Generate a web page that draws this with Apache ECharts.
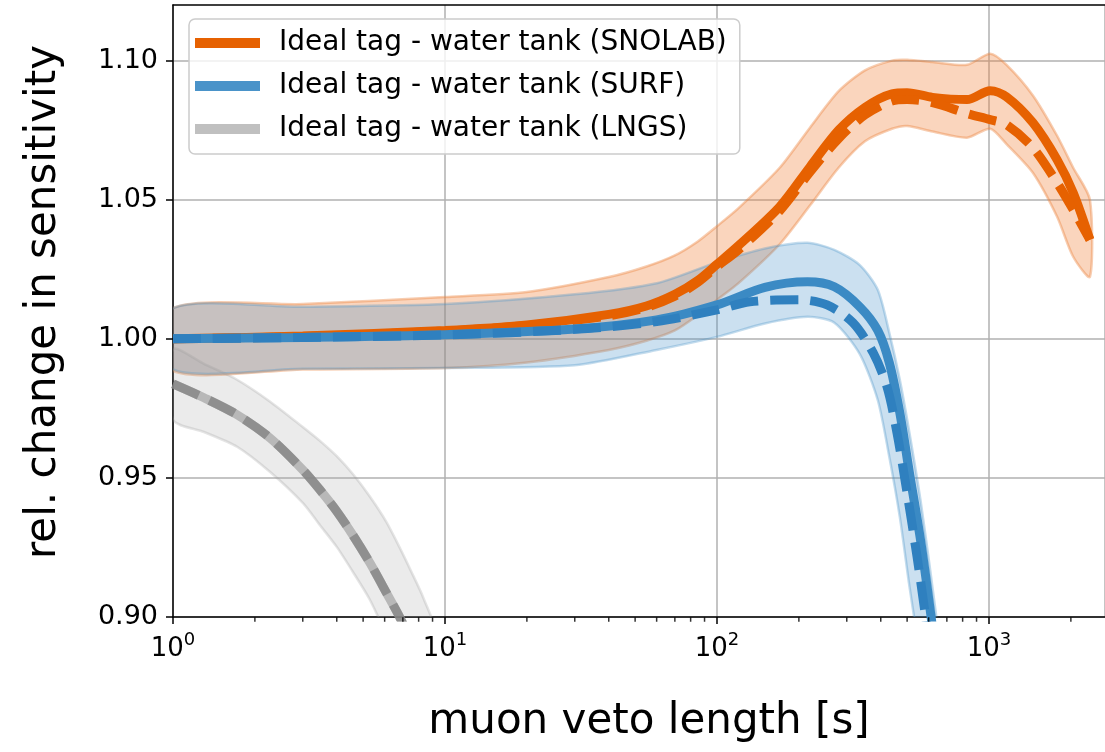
<!DOCTYPE html>
<html>
<head>
<meta charset="utf-8">
<script src="https://cdn.jsdelivr.net/npm/echarts@6/dist/echarts.min.js"></script>
<style>
html, body { margin: 0; padding: 0; background: #fff; }
#chart { width: 1105px; height: 752px; }
</style>
</head>
<body>
<div id="chart"></div>
<script>
// values
var legendNames = ["Ideal tag - water tank (SNOLAB)", "Ideal tag - water tank (SURF)", "Ideal tag - water tank (LNGS)"];
var yTicks = [0.90, 0.95, 1.00, 1.05, 1.10];
var minorTicks = [2, 3, 4, 5, 6, 7, 8, 9, 20, 30, 40, 50, 60, 70, 80, 90, 200, 300, 400, 500, 600, 700, 800, 900, 2000];

// SNOLAB
var snolabX      = [1, 3, 10, 20, 40, 55, 70, 85, 100, 120, 170, 220, 280, 350, 440, 500, 620, 830, 1010, 1160, 1450, 1780, 2040, 2350];
var snolabSolid  = [1.000, 1.001, 1.003, 1.005, 1.0088, 1.0118, 1.016, 1.021, 1.0268, 1.0335, 1.0475, 1.0619, 1.075, 1.0832, 1.0881, 1.0885, 1.0868, 1.086, 1.0892, 1.087, 1.0777, 1.0644, 1.0525, 1.0356];
var snolabDashed = [1.000, 1.0008, 1.0028, 1.0048, 1.0083, 1.0113, 1.0153, 1.0203, 1.026, 1.032, 1.046, 1.060, 1.072, 1.0805, 1.0855, 1.086, 1.0849, 1.081, 1.0788, 1.077, 1.0687, 1.0561, 1.0464, 1.0356];
var snolabHigh   = [1.011, 1.0125, 1.015, 1.0168, 1.0222, 1.026, 1.030, 1.035, 1.0405, 1.047, 1.0615, 1.076, 1.089, 1.0965, 1.100, 1.1003, 1.0995, 1.0985, 1.1025, 1.0985, 1.0875, 1.073, 1.0615, 1.050];
var snolabLow    = [0.9885, 0.989, 0.9895, 0.9915, 0.996, 0.9993, 1.003, 1.0085, 1.014, 1.020, 1.034, 1.048, 1.0615, 1.071, 1.0755, 1.0765, 1.0745, 1.0723, 1.0755, 1.070, 1.0597, 1.0439, 1.0295, 1.0223];

// SURF
var surfX      = [1, 3, 10, 30, 60, 100, 150, 215, 270, 335, 390, 430, 470, 510, 560, 610, 660, 720];
var surfSolid  = [1.000, 1.0005, 1.0015, 1.0035, 1.0068, 1.0122, 1.0185, 1.0205, 1.0187, 1.0115, 1.003, 0.9914, 0.9734, 0.9518, 0.9277, 0.9014, 0.875, 0.84];
var surfHigh   = [1.011, 1.0115, 1.0125, 1.016, 1.020, 1.0275, 1.0325, 1.0345, 1.032, 1.0265, 1.0176, 1.0022, 0.9853, 0.9662, 0.942, 0.9158, 0.89, 0.86];
var surfLow    = [0.989, 0.9892, 0.9895, 0.9905, 0.996, 1.0007, 1.0055, 1.0079, 1.0058, 0.9945, 0.978, 0.9576, 0.936, 0.911, 0.885, 0.86, 0.84, 0.81];
var surfDashX  = [1, 3, 10, 30, 60, 100, 132, 202, 254, 316, 375, 422, 459, 500, 544, 582, 630];
var surfDashed = [1.000, 1.0005, 1.0014, 1.0034, 1.0062, 1.0104, 1.0133, 1.014, 1.0122, 1.0058, 0.995, 0.9827, 0.9662, 0.9446, 0.9216, 0.9014, 0.875];

// LNGS (solid and dashed lie on top of each other)
var lngsX     = [1, 1.3, 1.72, 2.27, 3.0, 3.47, 4.0, 4.6, 5.3, 6.1, 6.85, 7.5, 8.3, 9.5];
var lngsLine  = [0.9838, 0.9788, 0.9727, 0.9644, 0.9529, 0.9457, 0.938, 0.9292, 0.9194, 0.9086, 0.8995, 0.891, 0.879, 0.86];
var lngsHigh  = [0.9962, 0.991, 0.9853, 0.9775, 0.9683, 0.9633, 0.9578, 0.9512, 0.9432, 0.934, 0.9245, 0.9165, 0.9072, 0.891];
var lngsLow   = [0.9709, 0.9665, 0.9612, 0.9522, 0.941, 0.933, 0.9252, 0.916, 0.9061, 0.893, 0.880, 0.870, 0.855, 0.835];

var FONT = "DejaVu Sans";

function pairs(xs, ys) {
    var out = [];
    for (var i = 0; i < xs.length; i++) {
        out.push([xs[i], ys[i]]);
    }
    return out;
}

// uncertainty band: one polygon (upper edge forward, lower edge back)
function band(xs, lo, hi, fill, edge) {
    var data = [];
    for (var i = 0; i < xs.length; i++) {
        data.push([xs[i], lo[i], hi[i]]);
    }
    return {
        type: "custom", silent: true, z: 1, clip: true,
        encode: { x: 0, y: [1, 2] },
        data: data,
        renderItem: function (params, api) {
            if (params.dataIndex !== 0) return;
            var pts = [];
            for (var i = 0; i < xs.length; i++) pts.push(api.coord([xs[i], hi[i]]));
            for (var j = xs.length - 1; j >= 0; j--) pts.push(api.coord([xs[j], lo[j]]));
            var cs = params.coordSys;
            return {
                type: "polygon",
                shape: { points: pts, smooth: 0.25 },
                style: { fill: fill, stroke: edge, lineWidth: 2.5 },
                clipPath: { type: "rect", shape: { x: cs.x, y: cs.y, width: cs.width, height: cs.height } }
            };
        }
    };
}

function curve(name, xs, ys, color, legendColor, dashed) {
    return {
        name: name, type: "line", smooth: 0.3, showSymbol: false, silent: true, z: 3,
        data: pairs(xs, ys),
        itemStyle: { color: legendColor },
        lineStyle: { color: color, width: 9, type: dashed ? [28, 12] : "solid", cap: "butt" }
    };
}

var series = [
    band(snolabX, snolabLow, snolabHigh, "rgba(238,125,50,0.32)", "rgba(236,130,60,0.4)"),
    band(surfX, surfLow, surfHigh, "rgba(70,145,200,0.28)", "rgba(70,145,200,0.32)"),
    band(lngsX, lngsLow, lngsHigh, "rgba(165,165,165,0.22)", "rgba(150,150,150,0.25)")
];

series.push(curve(legendNames[0], snolabX, snolabSolid, "#e66101", "#e66101", false));
series.push(curve("snolab_dashed", snolabX, snolabDashed, "#e66101", "#e66101", true));
series.push(curve(legendNames[1], surfX, surfSolid, "#3b8ac4", "#4a93c9", false));
series.push(curve("surf_dashed", surfDashX, surfDashed, "#2f80bf", "#2f80bf", true));
series.push(curve(legendNames[2], lngsX, lngsLine, "rgba(150,150,150,0.6)", "#c0c0c0", false));
series.push(curve("lngs_dashed", lngsX, lngsLine, "rgba(130,130,130,0.75)", "#999999", true));

// minor ticks of the log axis
series.push({
    type: "scatter", silent: true, clip: false, z: 10,
    symbol: "rect", symbolSize: [1.5, 4.5], symbolOffset: [0, 2.5],
    itemStyle: { color: "#000" },
    data: minorTicks.map(function (v) { return [v, yTicks[0]]; })
});

var chart = echarts.init(document.getElementById("chart"), null, { renderer: "canvas" });
chart.setOption({
    animation: false,
    backgroundColor: "#fff",
    grid: { left: 173, right: 0, top: 5, bottom: 135 },
    legend: {
        data: legendNames,
        orient: "vertical",
        left: 189, top: 19,
        icon: "rect", itemWidth: 65, itemHeight: 10, itemGap: 15,
        padding: [10, 13, 11, 6],
        backgroundColor: "rgba(255,255,255,0.8)",
        borderColor: "#cccccc", borderWidth: 1.5, borderRadius: 6,
        textStyle: { fontFamily: FONT, fontSize: 28, color: "#000", padding: [0, 0, 0, 14] }
    },
    xAxis: [{
        type: "log", logBase: 10, min: 1, max: 2670,
        name: "muon veto length [s]", nameLocation: "middle", nameGap: 84,
        nameTextStyle: { fontFamily: FONT, fontSize: 42, color: "#000", padding: [0, 0, 0, 20] },
        axisLine: { lineStyle: { color: "#000", width: 1.5 } },
        axisTick: { length: 7, lineStyle: { color: "#000", width: 1.5 } },
        splitLine: { show: true, lineStyle: { color: "#b0b0b0", width: 1.5 } },
        axisLabel: {
            showMaxLabel: false, margin: 14, color: "#000",
            formatter: function (v) {
                return "{b|10}{s|" + Math.round(Math.log10(v)) + "}";
            },
            rich: {
                b: { fontFamily: FONT, fontSize: 26, color: "#000", padding: [5, 0, 0, 0], verticalAlign: "bottom" },
                s: { fontFamily: FONT, fontSize: 18, color: "#000", verticalAlign: "top" }
            }
        }
    }, {
        type: "log", logBase: 10, min: 1, max: 2670, position: "top",
        axisLine: { lineStyle: { color: "#000", width: 1.5 } },
        axisTick: { show: false }, axisLabel: { show: false }, splitLine: { show: false }
    }],
    yAxis: {
        type: "value", min: 0.9, max: 1.12, interval: 0.05,
        name: "rel. change in sensitivity", nameLocation: "middle", nameGap: 108, nameRotate: 90,
        nameTextStyle: { fontFamily: FONT, fontSize: 42, color: "#000", padding: [0, 0, 0, 18] },
        axisLine: { show: true, lineStyle: { color: "#000", width: 1.5 } },
        axisTick: { show: true, length: 7, lineStyle: { color: "#000", width: 1.5 }, customValues: yTicks },
        splitLine: { show: true, lineStyle: { color: "#b0b0b0", width: 1.5 } },
        axisLabel: {
            fontFamily: FONT, fontSize: 27, color: "#000", margin: 15,
            customValues: yTicks,
            formatter: function (v) { return v.toFixed(2); }
        }
    },
    series: series
});
</script>
</body>
</html>
